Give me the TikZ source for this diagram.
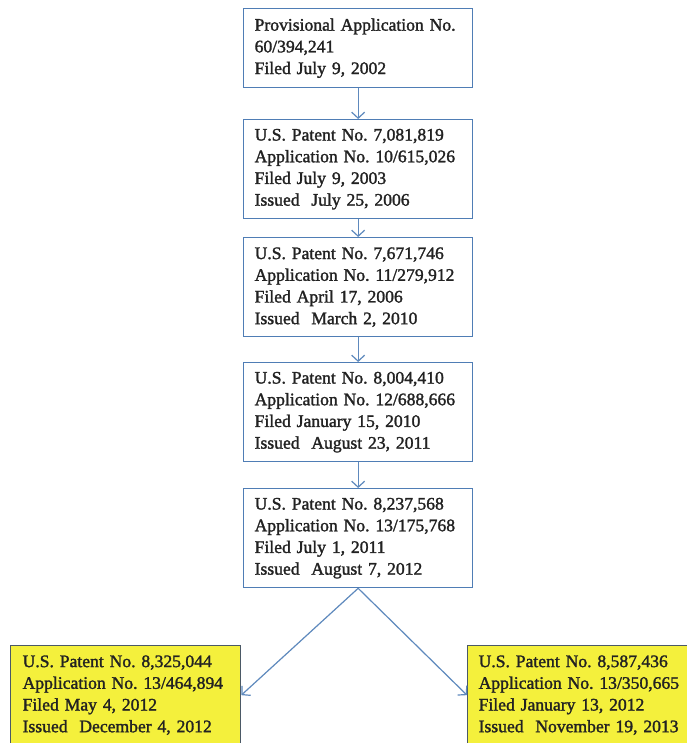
\documentclass[tikz,border=0pt]{standalone}
\usepackage{fontspec}
\setmainfont{Liberation Serif}
\newfontfamily\boxfont{Liberation Serif}[FakeBold=1.6]
\usetikzlibrary{arrows.meta}
\definecolor{boxblue}{HTML}{4F7DB5}
\definecolor{arrowblue}{HTML}{5E89BD}
\definecolor{txt}{HTML}{222222}
\definecolor{hl}{HTML}{F4F03C}
\definecolor{hlborder}{HTML}{4B5966}
\begin{document}
\frenchspacing
\begin{tikzpicture}[x=1pt,y=-1pt,
  patbox/.style={draw=boxblue, line width=1.3pt, fill=white, inner xsep=11pt, inner ysep=0pt,
    text width=207pt, minimum height=99pt, align=left, anchor=north west,
    font=\boxfont\frenchspacing\fontsize{17.6}{21.7}\selectfont, text=txt},
  hlbox/.style={patbox, draw=hlborder, fill=hl},
  arr/.style={draw=arrowblue, line width=1.2pt, -{Straight Barb[length=6pt,width=13pt]}}]
\useasboundingbox[fill=white] (0,0) rectangle (686,743);
\node[patbox, minimum height=79pt] (b1) at (243,8) {Provisional Application No.\\60/394,241\\Filed July 9, 2002};
\node[patbox] (b2) at (243,119) {U.S. Patent No. 7,081,819\\Application No. 10/615,026\\Filed July 9, 2003\\Issued\ \ July 25, 2006};
\node[patbox] (b3) at (243,237) {U.S. Patent No. 7,671,746\\Application No. 11/279,912\\Filed April 17, 2006\\Issued\ \ March 2, 2010};
\node[patbox] (b4) at (243,362) {U.S. Patent No. 8,004,410\\Application No. 12/688,666\\Filed January 15, 2010\\Issued\ \ August 23, 2011};
\node[patbox] (b5) at (243,488) {U.S. Patent No. 8,237,568\\Application No. 13/175,768\\Filed July 1, 2011\\Issued\ \ August 7, 2012};
\node[hlbox, inner xsep=12pt, text width=206pt] (bl) at (10,645) {U.S. Patent No. 8,325,044\\Application No. 13/464,894\\Filed May 4, 2012\\Issued\ \ December 4, 2012};
\node[hlbox, inner xsep=11pt, text width=211pt] (br) at (467,645) {U.S. Patent No. 8,587,436\\Application No. 13/350,665\\Filed January 13, 2012\\Issued\ \ November 19, 2013};
\draw[arr] (b1.south) -- (b2.north);
\draw[arr] (b2.south) -- (b3.north);
\draw[arr] (b3.south) -- (b4.north);
\draw[arr] (b4.south) -- (b5.north);
\draw[arr] (b5.south) -- (bl.east);
\draw[arr] (b5.south) -- (br.west);
\end{tikzpicture}
\end{document}
